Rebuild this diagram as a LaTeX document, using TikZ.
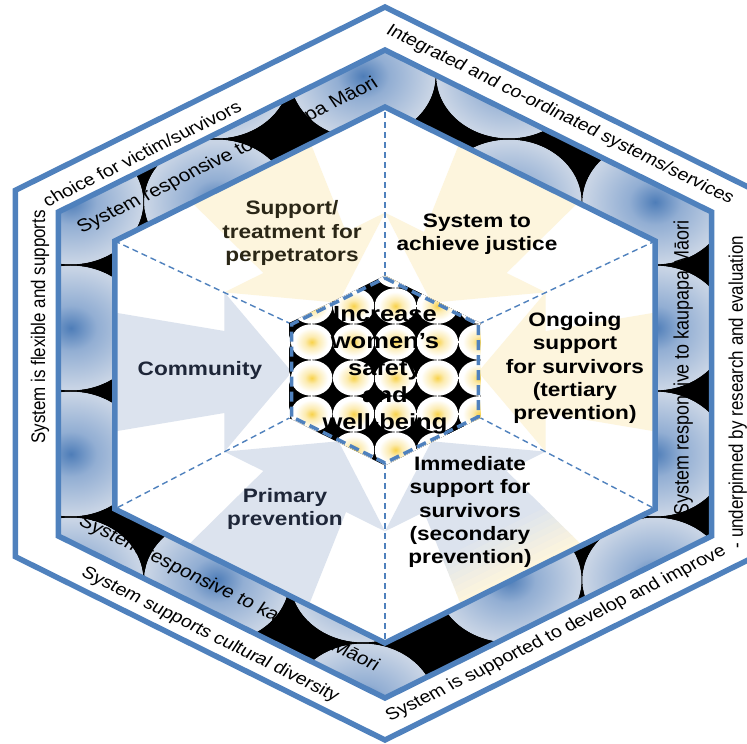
\documentclass[tikz,border=0pt]{standalone}
\usepackage{fontspec}
\setmainfont{Liberation Sans}
\definecolor{hexblue}{HTML}{4F81BD}
\definecolor{bandlight}{HTML}{C8D4E5}
\definecolor{bandmid}{HTML}{92AED3}
\definecolor{banddark}{HTML}{4E7DB8}
\definecolor{arrowblue}{HTML}{DCE3EE}
\definecolor{arrowyellow}{HTML}{FDF5DD}
\definecolor{dotyellow}{HTML}{F8D24A}
\definecolor{dotpale}{HTML}{FCEBB0}
\definecolor{navytext}{HTML}{1E2638}
\definecolor{olivetext}{HTML}{2A2616}
\pgfdeclareradialshading{bandshade}{\pgfpointorigin}{color(0bp)=(banddark); color(9bp)=(bandmid); color(24bp)=(bandlight); color(50bp)=(bandlight)}
\pgfdeclareradialshading{dotshade}{\pgfpointorigin}{color(0bp)=(dotyellow); color(8bp)=(dotpale); color(20bp)=(white); color(50bp)=(white)}
\begin{document}
\begin{tikzpicture}[x=1bp,y=-1bp,xscale=1.164,
 hexline/.style={draw=hexblue,line width=5.5bp},
 spoke/.style={draw=hexblue,line width=1.4bp,dash pattern=on 6bp off 4bp},
 centerline/.style={draw=hexblue,line width=3.5bp,dash pattern=on 10bp off 5bp},
 sect/.style={transform shape,align=center,inner sep=0pt,text=black,font=\fontsize{19.5}{23.5}\selectfont\bfseries},
 ctrtxt/.style={transform shape,align=center,inner sep=0pt,text=black,font=\fontsize{22}{27}\selectfont\bfseries},
 midtxt/.style={transform shape,inner sep=0pt,text=black,font=\fontsize{18}{20}\selectfont},
 outtxt/.style={transform shape,inner sep=0pt,text=black,font=\fontsize{17}{19}\selectfont},
 bandcirc/.style={shading=bandshade},
 dotcirc/.style={shading=dotshade},
]
\def\arrowpoly{(80,0) -- (138,79.7) -- (138,41) -- (330,78.6) -- (330,-78.6) -- (138,-41) -- (138,-79.7) -- cycle}
\useasboundingbox (-330.76,0) rectangle (311.0,744);
\clip (-330.76,0) rectangle (311.0,744);
\fill[white] (-330.76,0) rectangle (311.0,744);
% hexagon vertices
\foreach \n/\cy/\rr in {o/373.5/366.5, m/374/324, i/375/268, c/370.5/92.5, p/370.5/95} {
  \coordinate (\n1) at (0,{\cy-\rr});
  \coordinate (\n2) at ({0.8660254*\rr},{\cy-0.5*\rr});
  \coordinate (\n3) at ({0.8660254*\rr},{\cy+0.5*\rr});
  \coordinate (\n4) at (0,{\cy+\rr});
  \coordinate (\n5) at ({-0.8660254*\rr},{\cy+0.5*\rr});
  \coordinate (\n6) at ({-0.8660254*\rr},{\cy-0.5*\rr});
}
% outer hexagon
\fill[white] (o1)--(o2)--(o3)--(o4)--(o5)--(o6)--cycle;
% patterned band
\begin{scope}
 \clip (m1)--(m2)--(m3)--(m4)--(m5)--(m6)--cycle;
 \fill[black] (m1)--(m2)--(m3)--(m4)--(m5)--(m6)--cycle;
 \foreach \u in {-395.5,-270,-144.5,-19,106.5,232,357.5} {
  \foreach \v in {-50,76,202,328,454,580,706} {
   \shade[bandcirc] (\u,\v) circle[radius=62.5];
  }
 }
 \node[midtxt,rotate=30] (mb1) at (-135,156) {System responsive to kaupapa Māori};
 \node[midtxt,rotate=90] (mb2) at (256.3,368) {System responsive to kaupapa Māori};
 \node[midtxt,rotate=-30] (mb3) at (-134,594) {System responsive to kaupapa Māori};
 \fill[black,even odd rule] (-420,-120) rectangle (420,860)
   \foreach \u in {-395.5,-270,-144.5,-19,106.5,232,357.5} {
    \foreach \v in {-50,76,202,328,454,580,706} { (\u,\v) circle[radius=62.5] }
   };
\end{scope}
% inner area
\fill[white] (i1)--(i2)--(i3)--(i4)--(i5)--(i6)--cycle;
\begin{scope}
 \clip (i1)--(i2)--(i3)--(i4)--(i5)--(i6)--cycle;
 \foreach \ang/\col in {180/arrowblue,120/arrowyellow,60/arrowyellow,0/arrowyellow,240/arrowblue} {
  \fill[\col,shift={(0,372)},rotate=\ang] \arrowpoly;
 }
 \begin{scope}[shift={(0,372)},rotate=-60]
  \clip \arrowpoly;
  \fill[arrowblue] (60,-120) rectangle (181,120);
  \foreach \k in {0,...,7} {
   \pgfmathsetmacro\pc{100-\k*12.5}
   \fill[arrowblue!\pc!arrowyellow] ({180+\k*6},-120) rectangle ({187+\k*6},120);
  }
  \fill[arrowyellow] (228,-120) rectangle (340,120);
 \end{scope}
\end{scope}
% spokes
\draw[spoke] (c1)--(i1);
\draw[spoke] (c2)--(i2);
\draw[spoke] (c3)--(i3);
\draw[spoke] (c4)--(i4);
\draw[spoke] (c5)--(i5);
\draw[spoke] (c6)--(i6);
% centre pattern
\begin{scope}
 \clip (p1)--(p2)--(p3)--(p4)--(p5)--(p6)--cycle;
 \fill[black] (p1)--(p2)--(p3)--(p4)--(p5)--(p6)--cycle;
 \foreach \u in {-99,-63,-27,9,45,81,117} {
  \foreach \v in {270,306,342,378,414,450,486} {
   \shade[dotcirc] (\u,\v) circle[radius=17.8];
  }
 }
\end{scope}
\draw[centerline] (c1)--(c2)--(c3)--(c4)--(c5)--(c6)--cycle;
\node[ctrtxt] (ctr) at (0,370) {Increase\\women’s\\safety\\and\\well-being};
% sector labels
\node[sect,text=olivetext] (sup) at (-79.9,233) {Support/\\treatment for\\perpetrators};
\node[sect] (jus) at (79,234) {System to\\achieve justice};
\node[sect] (ong) at (163.2,368) {Ongoing\\support\\for survivors\\(tertiary\\prevention)};
\node[sect] (imm) at (73,512) {Immediate\\support for\\survivors\\(secondary\\prevention)};
\node[sect,text=navytext] (pri) at (-85.9,509) {Primary\\prevention};
\node[sect,text=navytext] (com) at (-159,370) {Community};
% outer band texts
\node[outtxt,rotate=30] (ot1) at (-209,153.5) {choice for victim/survivors};
\node[outtxt,rotate=90] (ot2) at (-296.4,327) {System is flexible and supports};
\node[outtxt,rotate=-30] (ot3) at (150.3,115) {Integrated and co-ordinated systems/services};
\node[outtxt,rotate=90] (ot4) at (303,392) {- underpinned by research and evaluation};
\node[outtxt,rotate=-30] (ot5) at (-150.3,635) {System supports cultural diversity};
\node[outtxt,rotate=30] (ot6) at (147,634) {System is supported to develop and improve};
% hexagon outlines
\draw[hexline] (o1)--(o2)--(o3)--(o4)--(o5)--(o6)--cycle;
\draw[hexline] (m1)--(m2)--(m3)--(m4)--(m5)--(m6)--cycle;
\draw[hexline] (i1)--(i2)--(i3)--(i4)--(i5)--(i6)--cycle;
\end{tikzpicture}
\end{document}
